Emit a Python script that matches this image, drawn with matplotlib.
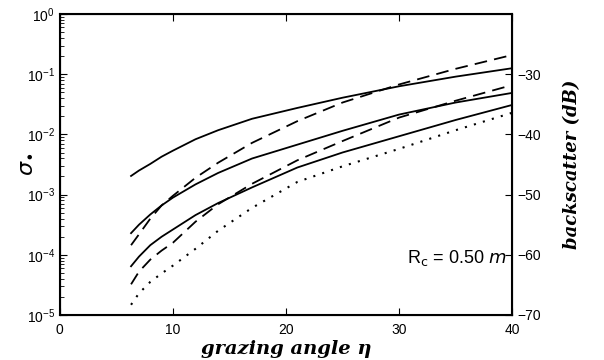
import matplotlib
matplotlib.use('Agg')
import matplotlib.pyplot as plt
import numpy as np

plt.rcParams['font.family'] = ['Liberation Sans', 'DejaVu Sans']
plt.rcParams['mathtext.fontset'] = 'dejavusans'

# grazing angle (deg) where curves were read
eta = [6.3, 7, 8, 9, 10, 12, 14, 17, 21, 25, 30, 35, 40]

# log10(sigma)
solid1 = [-2.69, -2.60, -2.49, -2.37, -2.27, -2.08, -1.93, -1.74, -1.56, -1.39, -1.20, -1.04, -0.90]
dash1 = [-3.84, -3.66, -3.40, -3.18, -3.02, -2.72, -2.47, -2.14, -1.78, -1.47, -1.17, -0.91, -0.68]
solid2 = [-3.64, -3.50, -3.33, -3.18, -3.05, -2.83, -2.64, -2.40, -2.17, -1.94, -1.67, -1.47, -1.31]
solid3 = [-4.19, -4.03, -3.84, -3.70, -3.58, -3.34, -3.14, -2.88, -2.55, -2.30, -2.03, -1.76, -1.51]
dash2 = [-4.49, -4.28, -4.08, -3.93, -3.80, -3.45, -3.16, -2.82, -2.43, -2.11, -1.72, -1.44, -1.18]
dotted = [-4.83, -4.64, -4.45, -4.31, -4.18, -3.90, -3.60, -3.22, -2.79, -2.53, -2.24, -1.93, -1.64]

dpi = 100
fig = plt.figure(figsize=(604 / dpi, 360 / dpi), dpi=dpi)
ax = fig.add_axes([0.099, 0.125, 0.749, 0.836])

def sig(v):
    return [10 ** a for a in v]

lw = 1.3
ax.plot(eta, sig(solid1), color='black', lw=lw)
ax.plot(eta, sig(solid2), color='black', lw=lw)
ax.plot(eta, sig(solid3), color='black', lw=lw)
ax.plot(eta, sig(dash1), color='black', lw=lw, dashes=(7, 4))
ax.plot(eta, sig(dash2), color='black', lw=lw, dashes=(7, 4))
ax.plot(eta, sig(dotted), color='black', lw=1.5, dashes=(1, 3.5))

ax.set_yscale('log')
ax.set_xlim(0, 40)
ax.set_ylim(1e-5, 1)
ax.set_xticks([0, 10, 20, 30, 40])
ax.set_yticks([1e-5, 1e-4, 1e-3, 1e-2, 1e-1, 1])
ax.tick_params(which='both', direction='in', top=True, labelsize=10)
ax.tick_params(which='major', length=5)
ax.tick_params(which='minor', length=3)
ax.tick_params(axis='x', pad=6)
for s in ax.spines.values():
    s.set_linewidth(1.5)

ax.set_ylabel(r'$\sigma_{\bullet}$', fontsize=16)
ax.yaxis.set_label_coords(-0.055, 0.5)
ax.set_xlabel('grazing angle η', fontsize=14, family='DejaVu Serif',
              style='italic', weight='bold', labelpad=2)

ax2 = ax.twinx()
ax2.set_ylim(-70, -20)
ax2.set_yticks([-70, -60, -50, -40, -30])
ax2.set_yticklabels(['\u221270', '\u221260', '\u221250', '\u221240', '\u221230'])
ax2.tick_params(direction='in', length=5, labelsize=10)
ax2.set_ylabel('backscatter (dB)', fontsize=13, family='DejaVu Serif',
               style='italic', weight='bold', labelpad=16)

ax.text(30.7, 10 ** -4.13, r'R$_\mathrm{c}$ = 0.50 $m$', fontsize=13)

fig.savefig('out.png', dpi=dpi)
